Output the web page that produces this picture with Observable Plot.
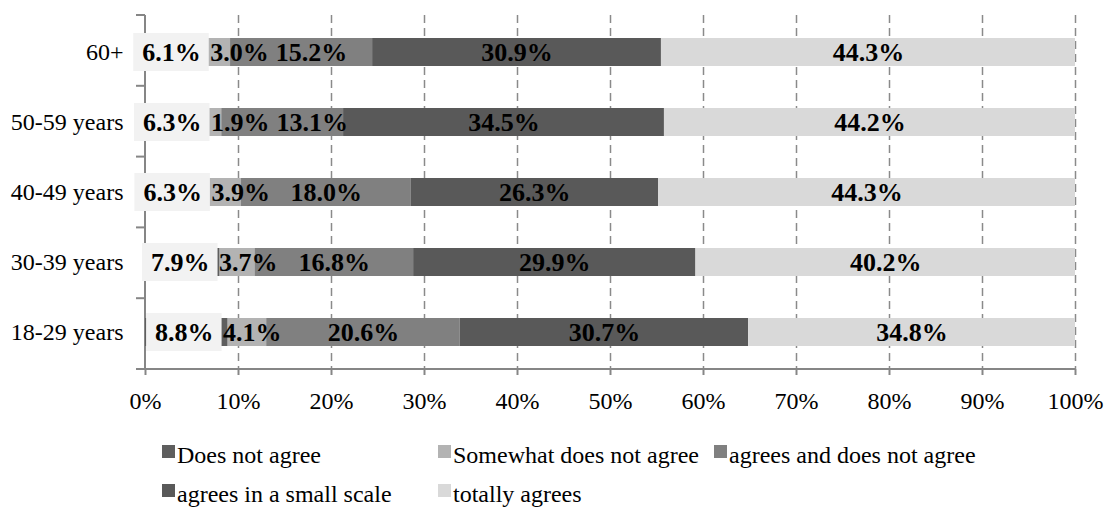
<!DOCTYPE html>
<html>
<head>
<meta charset="utf-8">
<script src="https://cdn.jsdelivr.net/npm/d3@7"></script>
<script src="https://cdn.jsdelivr.net/npm/@observablehq/plot@0.6"></script>
<style>
  html, body { margin: 0; padding: 0; background: #fff; overflow: hidden; }
  #chart { width: 1109px; height: 434px; }
  #legend {
    display: grid;
    grid-template-columns: 276px 276px auto;
    margin-left: 162px;
    padding-top: 2px;
    line-height: 39px;
    font-family: "Liberation Serif", "Times New Roman", serif;
    font-size: 24px;
    color: #000;
    white-space: nowrap;
  }
  .sw { display: inline-block; width: 13px; height: 13px; vertical-align: 5px; margin-right: 2px; }
</style>
</head>
<body>
<div id="chart"></div>
<div id="legend"></div>
<script>
const categories = ["60+", "50-59 years", "40-49 years", "30-39 years", "18-29 years"];
const series = ["Does not agree", "Somewhat does not agree", "agrees and does not agree", "agrees in a small scale", "totally agrees"];
const doesNotAgree = [6.1, 6.3, 6.3, 7.9, 8.8];
const somewhatDoesNotAgree = [3.0, 1.9, 3.9, 3.7, 4.1];
const agreesAndDoesNotAgree = [15.2, 13.1, 18.0, 16.8, 20.6];
const agreesInSmallScale = [30.9, 34.5, 26.3, 29.9, 30.7];
const totallyAgrees = [44.3, 44.2, 44.3, 40.2, 34.8];
const xTicks = [0, 10, 20, 30, 40, 50, 60, 70, 80, 90, 100];
const colors = ["#5e5e5e", "#b3b3b3", "#808080", "#595959", "#d9d9d9"];

const seriesValues = [doesNotAgree, somewhatDoesNotAgree, agreesAndDoesNotAgree, agreesInSmallScale, totallyAgrees];

const W = 1109, H = 434, ML = 145, MR = 34, MT = 15, MB = 65;
const plotW = W - ML - MR;
const serif = "'Liberation Serif', 'Times New Roman', serif";

const rows = [];
categories.forEach((c, i) => series.forEach((s, j) => rows.push({age: c, series: s, value: seriesValues[j][i]})));

// measure label widths for a simple left-to-right collision layout
const ctx = document.createElement("canvas").getContext("2d");
ctx.font = "bold 26px 'Liberation Serif'";
const fmt = v => v.toFixed(1) + "%";

const labels = [], boxes = [];
categories.forEach((c, i) => {
  const vals = seriesValues.map(a => a[i]);
  const total = d3.sum(vals);
  let cum = 0;
  let prevRight = -Infinity;
  vals.forEach((v, j) => {
    const start = cum / total, end = (cum + v) / total;
    cum += v;
    const txt = fmt(v);
    const w = ctx.measureText(txt).width / plotW;
    if (j === 0) {
      const center = (start + end) / 2 - 2.5 / plotW;
      const bw = w + 17 / plotW;
      boxes.push({age: c, x1: center - bw / 2, x2: center + bw / 2});
      labels.push({age: c, x: center, text: txt});
      prevRight = center + bw / 2;
    } else {
      const center = (start + end) / 2;
      let left = center - w / 2;
      const minLeft = prevRight + (j === 1 ? 1 : 7) / plotW;
      if (left < minLeft) left = minLeft;
      labels.push({age: c, x: left + w / 2, text: txt});
      prevRight = left + w;
    }
  });
});

function axisFrame(index, scales, values, dimensions) {
  const {height, width, marginLeft, marginTop, marginBottom, marginRight} = dimensions;
  const y0 = marginTop, y1 = height - marginBottom;
  const g = d3.create("svg:g").attr("stroke", "#868686").attr("stroke-width", 2).attr("fill", "none");
  g.append("line").attr("x1", marginLeft).attr("x2", marginLeft).attr("y1", y0).attr("y2", y1);
  g.append("line").attr("x1", marginLeft - 9).attr("x2", width - marginRight).attr("y1", y1).attr("y2", y1);
  const step = (y1 - y0) / categories.length;
  for (let k = 0; k < categories.length; k++) {
    const y = y0 + k * step;
    g.append("line").attr("x1", marginLeft - 9).attr("x2", marginLeft).attr("y1", y).attr("y2", y);
  }
  return g.node();
}

const chart = Plot.plot({
  width: W, height: H,
  marginLeft: ML, marginRight: MR, marginTop: MT, marginBottom: MB,
  style: {fontFamily: serif, fontSize: "24px", color: "#000", background: "#fff"},
  x: {domain: [0, 1], label: null},
  y: {domain: categories, paddingInner: 0.6, paddingOuter: 0.3, label: null},
  color: {domain: series, range: colors},
  marks: [
    Plot.ruleX(xTicks.filter(t => t > 0).map(t => t / 100), {stroke: "#8a8a8a", strokeWidth: 1.5, strokeDasharray: "8,5"}),
    axisFrame,
    Plot.barX(rows, Plot.stackX({x: "value", y: "age", fill: "series", offset: "normalize"})),
    Plot.barX(boxes, {x1: "x1", x2: "x2", y: "age", fill: "#f2f2f2", insetTop: -5, insetBottom: -5}),
    Plot.text(labels, {x: "x", y: "age", text: "text", fontWeight: "bold", fontSize: 26, fontFamily: serif, fill: "#000"}),
    Plot.axisX(xTicks.map(t => t / 100), {tickFormat: d => Math.round(d * 100) + "%", tickSize: 6, tickPadding: 16, stroke: "#868686", strokeWidth: 2, fontSize: 24, label: null, color: "#000"}),
    Plot.axisY({tickSize: 0, tickPadding: 22, fontSize: 24, label: null})
  ]
});
document.getElementById("chart").appendChild(chart);

const legend = document.getElementById("legend");
series.forEach((s, j) => {
  const item = document.createElement("div");
  const sw = document.createElement("span");
  sw.className = "sw";
  sw.style.background = colors[j];
  item.appendChild(sw);
  item.appendChild(document.createTextNode(s));
  legend.appendChild(item);
});
</script>
</body>
</html>
